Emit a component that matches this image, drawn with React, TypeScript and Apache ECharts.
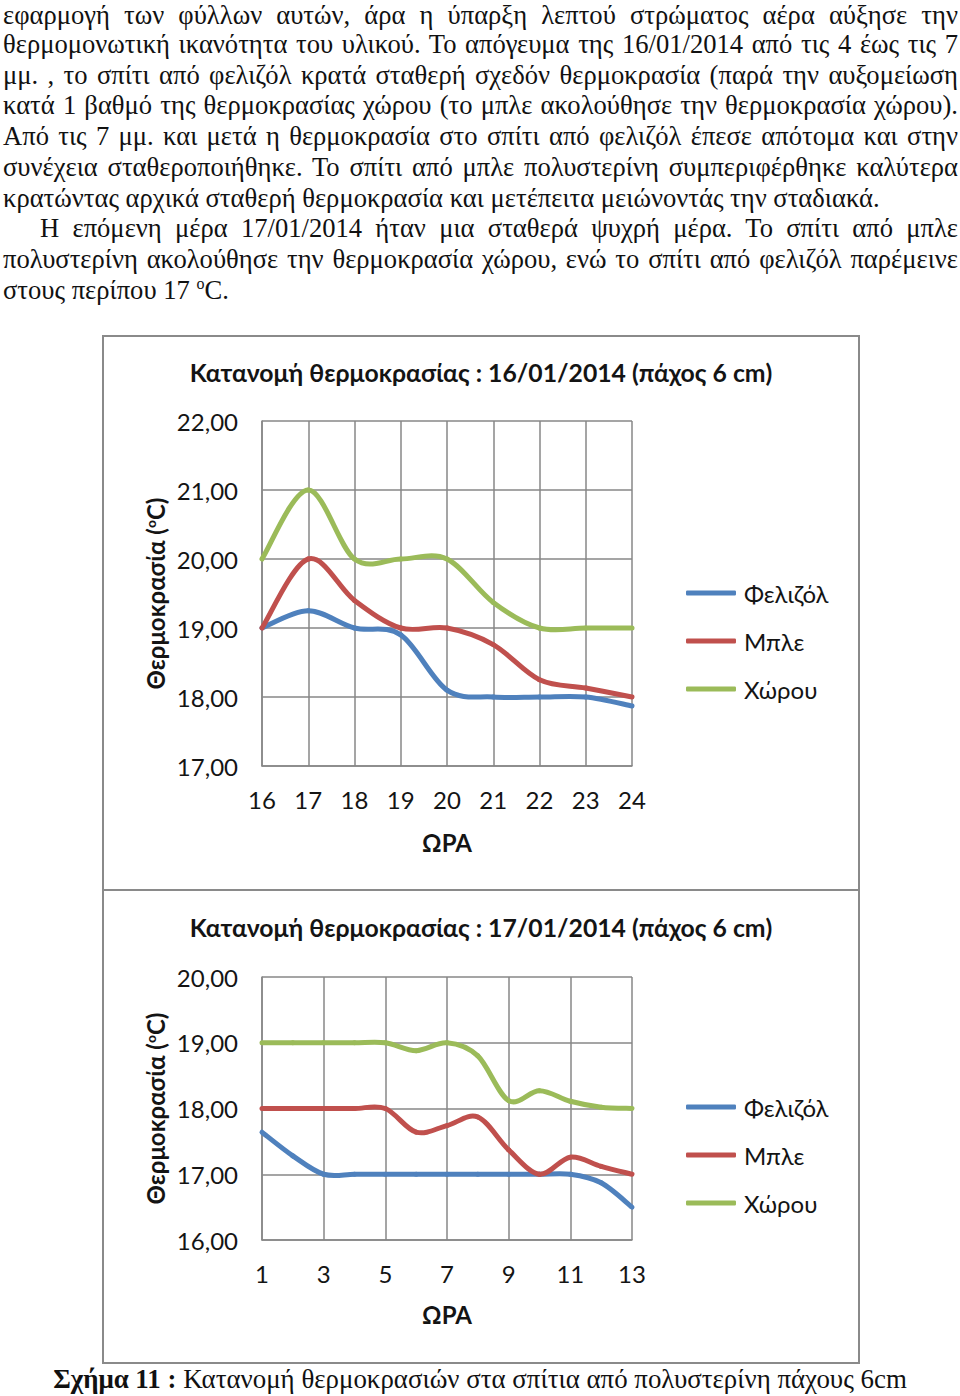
import React, { useEffect, useRef } from 'react';
import * as echarts from 'echarts';

// ---------- data ----------
const seriesNames = ['Φελιζόλ', 'Μπλε', 'Χώρου'];
const seriesColors = ['#4F81BD', '#C0504D', '#9BBB59'];

const hoursDay1 = ['16', '17', '18', '19', '20', '21', '22', '23', '24'];
const felizolDay1 = [19.0, 19.25, 19.0, 18.9, 18.1, 18.0, 18.0, 18.0, 17.87];
const mpleDay1 = [19.0, 20.0, 19.4, 19.0, 19.0, 18.76, 18.25, 18.13, 18.0];
const xorouDay1 = [20.0, 21.0, 20.0, 20.0, 20.0, 19.37, 19.0, 19.0, 19.0];

const hoursDay2 = ['1', '2', '3', '4', '5', '6', '7', '8', '9', '10', '11', '12', '13'];
const felizolDay2 = [17.64, 17.28, 17.0, 17.0, 17.0, 17.0, 17.0, 17.0, 17.0, 17.0, 17.0, 16.87, 16.5];
const mpleDay2 = [18.0, 18.0, 18.0, 18.0, 18.0, 17.64, 17.74, 17.87, 17.37, 17.0, 17.26, 17.12, 17.0];
const xorouDay2 = [19.0, 19.0, 19.0, 19.0, 19.0, 18.88, 19.0, 18.8, 18.12, 18.27, 18.11, 18.02, 18.0];

const title1 = 'Κατανομή θερμοκρασίας : 16/01/2014 (πάχος 6 cm)';
const title2 = 'Κατανομή θερμοκρασίας : 17/01/2014 (πάχος 6 cm)';
const yName = 'Θερμοκρασία ({s|o}C)';
const xName = 'ΩΡΑ';

const paragraphLines: { text: string; justify: boolean; indent: number }[] = [
  { text: 'εφαρμογή των φύλλων αυτών, άρα η ύπαρξη λεπτού στρώματος αέρα αύξησε την', justify: true, indent: 0 },
  { text: 'θερμομονωτική ικανότητα του υλικού. Το απόγευμα της 16/01/2014 από τις 4 έως τις 7', justify: true, indent: 0 },
  { text: 'μμ. , το σπίτι από φελιζόλ κρατά σταθερή σχεδόν θερμοκρασία (παρά την αυξομείωση', justify: true, indent: 0 },
  { text: 'κατά 1 βαθμό της θερμοκρασίας χώρου (το μπλε ακολούθησε την θερμοκρασία χώρου).', justify: true, indent: 0 },
  { text: 'Από τις 7 μμ. και μετά η θερμοκρασία στο σπίτι από φελιζόλ έπεσε απότομα και στην', justify: true, indent: 0 },
  { text: 'συνέχεια σταθεροποιήθηκε. Το σπίτι από μπλε πολυστερίνη συμπεριφέρθηκε καλύτερα', justify: true, indent: 0 },
  { text: 'κρατώντας αρχικά σταθερή θερμοκρασία και μετέπειτα μειώνοντάς την σταδιακά.', justify: false, indent: 0 },
  { text: 'Η επόμενη μέρα 17/01/2014 ήταν μια σταθερά ψυχρή μέρα. Το σπίτι από μπλε', justify: true, indent: 37 },
  { text: 'πολυστερίνη ακολούθησε την θερμοκρασία χώρου, ενώ το σπίτι από φελιζόλ παρέμεινε', justify: true, indent: 0 },
];
const lastLineBefore = 'στους περίπου 17 ';
const lastLineAfter = 'C.';
const captionBold = 'Σχήμα 11 :';
const captionRest = ' Κατανομή θερμοκρασιών στα σπίτια από πολυστερίνη πάχους 6cm';

// ---------- styling ----------
const sansFont = 'Lato, "Noto Sans", sans-serif';
const serifFont = '"Liberation Serif", "Times New Roman", serif';
const gridColor = '#878787';
const textColor = '#141414';

const fmt = (v: number) => v.toFixed(2).replace('.', ',');

function xAxis(data: string[], gridIndex: number, labelInterval: number, nameGap: number) {
  return {
    type: 'category',
    gridIndex,
    data,
    boundaryGap: false,
    name: xName,
    nameLocation: 'middle',
    nameGap,
    nameTextStyle: { fontFamily: sansFont, fontSize: 24, fontWeight: 'bold', color: textColor },
    axisLine: { show: true, lineStyle: { color: gridColor, width: 1.5 } },
    axisTick: { show: false },
    axisLabel: { interval: labelInterval, margin: 21, fontFamily: sansFont, fontSize: 24, color: textColor },
    splitLine: { show: true, interval: labelInterval, lineStyle: { color: gridColor, width: 1.5 } },
  };
}

function yAxis(min: number, max: number, gridIndex: number) {
  return {
    type: 'value',
    gridIndex,
    min,
    max,
    interval: 1,
    name: yName,
    nameLocation: 'middle',
    nameGap: 95,
    nameRotate: 90,
    nameTextStyle: {
      fontFamily: sansFont,
      fontSize: 24,
      fontWeight: 'bold',
      color: textColor,
      rich: {
        s: { fontFamily: sansFont, fontSize: 14, fontWeight: 'bold', color: textColor, verticalAlign: 'top', padding: [0, 0, 10, 0] },
      },
    },
    axisLine: { show: true, lineStyle: { color: gridColor, width: 1.5 } },
    axisTick: { show: false },
    axisLabel: { margin: 24, fontFamily: sansFont, fontSize: 24, color: textColor, formatter: (v: number) => fmt(v) },
    splitLine: { show: true, lineStyle: { color: gridColor, width: 1.5 } },
  };
}

// Smoothed line (spreadsheet-style cubic Bézier through every point),
// each segment placed through the axes with api.coord.
function smoothSeries(name: string, values: number[], color: string, idx: number) {
  const n = values.length;
  const dist = (a: number[], b: number[]) => Math.hypot(a[0] - b[0], a[1] - b[1]);
  return {
    type: 'custom',
    name,
    coordinateSystem: 'cartesian2d',
    xAxisIndex: idx,
    yAxisIndex: idx,
    data: values.map((v, i) => [i, v]),
    encode: { x: 0, y: 1 },
    itemStyle: { color },
    clip: false,
    renderItem: (params: any, api: any) => {
      const i = params.dataIndex;
      if (i >= n - 1) return null;
      const pt = (j: number) => {
        const k = Math.max(0, Math.min(n - 1, j));
        return api.coord([k, values[k]]);
      };
      const p0 = pt(i - 1);
      const p1 = pt(i);
      const p2 = pt(i + 1);
      const p3 = pt(i + 2);
      const d02 = dist(p0, p2);
      const d12 = dist(p1, p2);
      const d13 = dist(p1, p3);
      let f1 = 1 / 6;
      let f2 = 1 / 6;
      if (d02 / 6 >= d12 / 2 && d02 > 0) f1 = d12 / 2 / d02;
      if (d13 / 6 >= d12 / 2 && d13 > 0) f2 = d12 / 2 / d13;
      return {
        type: 'bezierCurve',
        shape: {
          x1: p1[0],
          y1: p1[1],
          cpx1: p1[0] + f1 * (p2[0] - p0[0]),
          cpy1: p1[1] + f1 * (p2[1] - p0[1]),
          cpx2: p2[0] - f2 * (p3[0] - p1[0]),
          cpy2: p2[1] - f2 * (p3[1] - p1[1]),
          x2: p2[0],
          y2: p2[1],
        },
        style: { stroke: color, lineWidth: 5, fill: null, lineCap: 'round' },
        silent: true,
      };
    },
  };
}

function legend(top: number) {
  return {
    data: seriesNames.map((name, i) => ({ name, itemStyle: { color: seriesColors[i] } })),
    orient: 'vertical',
    left: 686,
    top,
    padding: 0,
    itemWidth: 50,
    itemHeight: 5,
    itemGap: 24,
    icon: 'roundRect',
    selectedMode: false,
    textStyle: { fontFamily: sansFont, fontSize: 24, color: textColor, lineHeight: 24, padding: [0, 0, 0, 3] },
  };
}

export default function App() {
  const ref = useRef<HTMLDivElement>(null);

  useEffect(() => {
    if (!ref.current) return;
    const chart = echarts.init(ref.current, null, { renderer: 'svg' });
    const titleStyle = { fontFamily: sansFont, fontSize: 24.75, fontWeight: 'bold', color: textColor };
    const option: any = {
      animation: false,
      backgroundColor: 'transparent',
      color: seriesColors,
      title: [
        { text: title1, left: 481, top: 360, textAlign: 'center', padding: 0, textStyle: titleStyle },
        { text: title2, left: 481, top: 915, textAlign: 'center', padding: 0, textStyle: titleStyle },
      ],
      grid: [
        { left: 262, top: 421, width: 370, height: 345, containLabel: false },
        { left: 262, top: 977, width: 370, height: 263, containLabel: false },
      ],
      xAxis: [xAxis(hoursDay1, 0, 0, 64), xAxis(hoursDay2, 1, 1, 62)],
      yAxis: [yAxis(17, 22, 0), yAxis(16, 20, 1)],
      legend: [legend(581), legend(1095)],
      series: [
        smoothSeries(seriesNames[0], felizolDay1, seriesColors[0], 0),
        smoothSeries(seriesNames[1], mpleDay1, seriesColors[1], 0),
        smoothSeries(seriesNames[2], xorouDay1, seriesColors[2], 0),
        smoothSeries(seriesNames[0], felizolDay2, seriesColors[0], 1),
        smoothSeries(seriesNames[1], mpleDay2, seriesColors[1], 1),
        smoothSeries(seriesNames[2], xorouDay2, seriesColors[2], 1),
      ],
      graphic: [
        { type: 'rect', silent: true, shape: { x: 103, y: 336, width: 756, height: 1027 }, style: { fill: 'none', stroke: '#8a8a8a', lineWidth: 2 } },
        { type: 'line', silent: true, shape: { x1: 103, y1: 890, x2: 859, y2: 890 }, style: { stroke: '#8a8a8a', lineWidth: 2 } },
      ],
    };
    chart.setOption(option);
    return () => chart.dispose();
  }, []);

  const lineTop0 = 3;
  const pitch = 30.78;
  const lineStyleBase: React.CSSProperties = {
    position: 'absolute',
    left: 3,
    width: 955,
    height: 20,
    lineHeight: '20px',
    fontFamily: serifFont,
    fontSize: 26.6,
    color: '#111',
    whiteSpace: 'nowrap',
    overflow: 'visible',
  };

  return (
    <div style={{ position: 'absolute', left: 0, top: 0, width: 960, height: 1396, background: '#fff', overflow: 'hidden' }}>
      <div ref={ref} style={{ position: 'absolute', left: 0, top: 0, width: 960, height: 1396 }} />
      {paragraphLines.map((l, i) => (
        <div
          key={i}
          style={{
            ...lineStyleBase,
            top: i === 0 ? lineTop0 + 2 : lineTop0 + i * pitch,
            left: 3 + l.indent,
            width: 955 - l.indent,
            whiteSpace: 'normal',
            textAlign: l.justify ? 'justify' : 'left',
            textAlignLast: l.justify ? 'justify' : 'left',
          }}
        >
          {l.text}
        </div>
      ))}
      <div style={{ ...lineStyleBase, top: lineTop0 + 9 * pitch }}>
        {lastLineBefore}
        <sup style={{ fontSize: 16, verticalAlign: 'baseline', position: 'relative', top: -10 }}>o</sup>
        {lastLineAfter}
      </div>
      <div
        style={{
          position: 'absolute',
          left: 0,
          width: 960,
          top: 1369,
          height: 20,
          lineHeight: '20px',
          textAlign: 'center',
          fontFamily: serifFont,
          fontSize: 26.9,
          color: '#111',
          whiteSpace: 'nowrap',
        }}
      >
        <b>{captionBold}</b>
        {captionRest}
      </div>
    </div>
  );
}
